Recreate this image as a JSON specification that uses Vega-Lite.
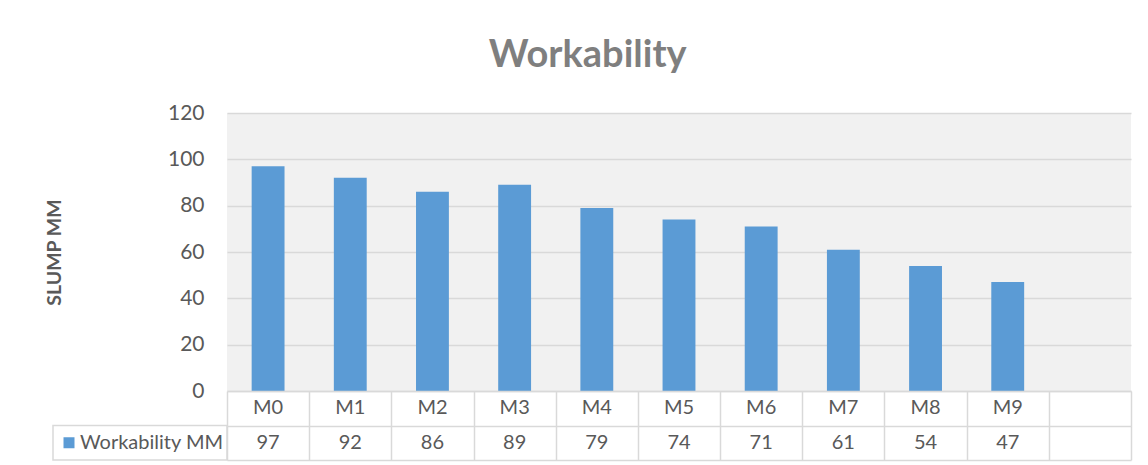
{
  "$schema": "https://vega.github.io/schema/vega-lite/v6.json",
  "background": "white",
  "padding": {"left": 44, "top": 37, "right": 18, "bottom": 5},
  "title": {"text": "Workability", "font": "Lato", "fontSize": 38, "fontWeight": "bold", "color": "#7f7f7f", "anchor": "middle", "offset": 27},
  "config": {"view": {"stroke": null}, "font": "Lato"},
  "datasets": {
    "mix": [
      {"mix": "M0", "slump": 97},
      {"mix": "M1", "slump": 92},
      {"mix": "M2", "slump": 86},
      {"mix": "M3", "slump": 89},
      {"mix": "M4", "slump": 79},
      {"mix": "M5", "slump": 74},
      {"mix": "M6", "slump": 71},
      {"mix": "M7", "slump": 61},
      {"mix": "M8", "slump": 54},
      {"mix": "M9", "slump": 47}
    ]
  },
  "spacing": 0,
  "bounds": "flush",
  "columns": 2,
  "concat": [
    {"width": 174, "height": 278, "data": {"values": []}, "mark": "point", "encoding": {}},
    {
      "width": 904,
      "height": 278,
      "view": {"fill": "#f1f1f1", "stroke": null},
      "data": {"name": "mix"},
      "mark": {"type": "bar", "color": "#5b9bd5"},
      "encoding": {
        "x": {"field": "mix", "type": "nominal", "scale": {"domain": ["M0","M1","M2","M3","M4","M5","M6","M7","M8","M9"," "], "paddingInner": 0.6, "paddingOuter": 0.3}, "axis": null},
        "y": {"field": "slump", "type": "quantitative", "scale": {"domain": [0, 120]},
          "axis": {"title": "SLUMP MM", "values": [0,20,40,60,80,100,120], "grid": true, "gridColor": "#d9d9d9", "gridWidth": 1.5, "domain": false, "ticks": false,
            "labelFont": "Lato", "labelFontSize": 21, "labelColor": "#595959", "labelPadding": 23,
            "titleFont": "Lato", "titleFontSize": 19.5, "titleFontWeight": "bold", "titleColor": "#595959", "titlePadding": 103}}
      }
    },
    {
      "width": 174,
      "height": 69,
      "data": {"values": [{"label": "Workability MM"}]},
      "layer": [
        {"mark": {"type": "rect", "fill": "white", "stroke": "#d9d9d9", "strokeWidth": 1.5},
         "encoding": {"y": {"datum": "b", "type": "nominal", "scale": {"domain": ["a","b"], "paddingInner": 0, "paddingOuter": 0}, "axis": null}}},
        {"mark": {"type": "point", "shape": "square", "filled": true, "color": "#5b9bd5", "size": 121, "opacity": 1},
         "encoding": {"y": {"datum": "b", "type": "nominal"}, "xOffset": {"value": -71}}},
        {"mark": {"type": "text", "align": "left", "dx": -60, "fontSize": 20, "color": "#595959", "font": "Lato"},
         "encoding": {"y": {"datum": "b", "type": "nominal"}, "text": {"field": "label"}}}
      ]
    },
    {
      "width": 904,
      "height": 69,
      "data": {"name": "mix"},
      "encoding": {
        "x": {"field": "mix", "type": "nominal", "scale": {"domain": ["M0","M1","M2","M3","M4","M5","M6","M7","M8","M9"," "], "paddingInner": 0, "paddingOuter": 0},
          "axis": {"title": null, "labels": false, "ticks": false, "domain": false, "grid": true, "gridColor": "#d9d9d9", "gridWidth": 1.5, "tickBand": "extent"}}
      },
      "layer": [
        {"mark": {"type": "text", "fontSize": 20, "color": "#595959", "font": "Lato"},
         "encoding": {"y": {"datum": "a", "type": "nominal", "scale": {"domain": ["a","b"], "paddingInner": 0, "paddingOuter": 0},
           "axis": {"title": null, "labels": false, "ticks": false, "domain": false, "grid": true, "gridColor": "#d9d9d9", "gridWidth": 1.5, "tickBand": "extent"}},
           "text": {"field": "mix"}}},
        {"mark": {"type": "text", "fontSize": 20, "color": "#595959", "font": "Lato"},
         "encoding": {"y": {"datum": "b", "type": "nominal"}, "text": {"field": "slump"}}}
      ]
    }
  ]
}
